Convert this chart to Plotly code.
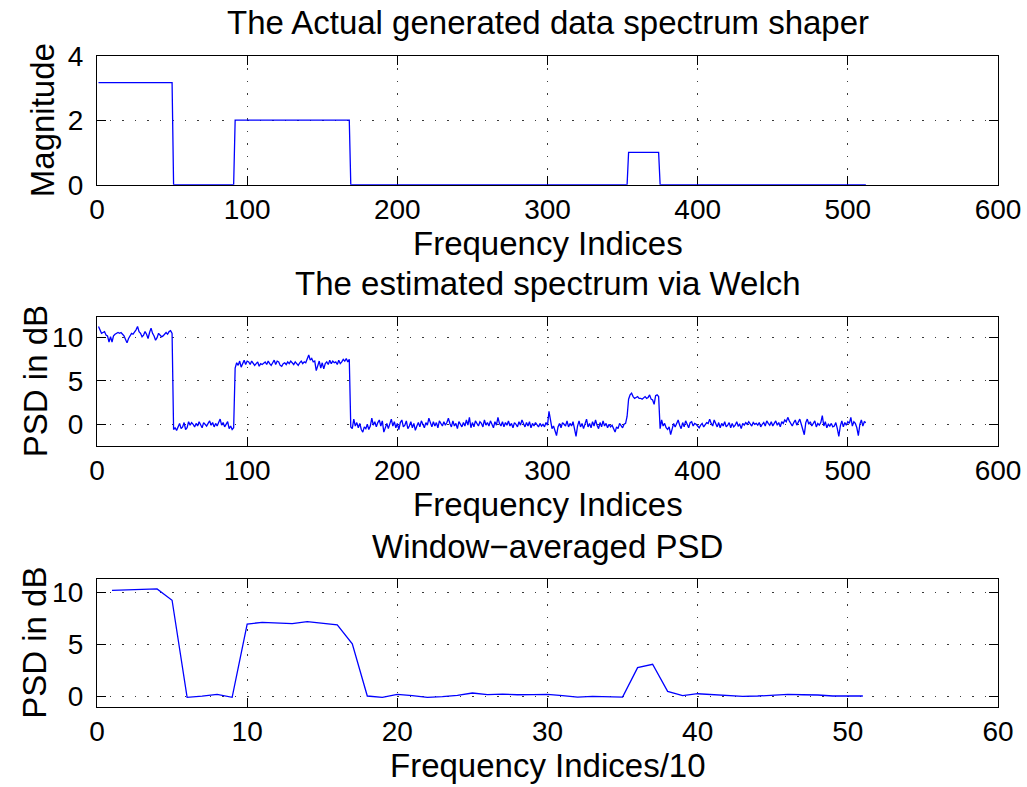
import plotly.graph_objects as go

# ---- spectrum shaper: corner points of the piecewise-constant magnitude ----
shaper_idx = [1, 50, 51, 91, 92, 168, 169, 353, 354, 374, 375, 512]
shaper_mag = [3.1623, 3.1623, 0, 0, 2, 2, 0, 0, 1, 1, 0, 0]

# ---- Welch PSD estimate in dB, frequency indices 1..512 ----
welch_psd_db = [
    # 1-50
    11.3, 10.9, 10.5, 10.6, 10.7, 10.3, 10.2, 9.5, 10.1, 9.5,
    10.2, 10.4, 10.5, 10.6, 10.5, 10.6, 10.4, 10.2, 9.8, 9.4,
    9.9, 10.3, 10.5, 10.4, 10.6, 10.9, 11.3, 10.7, 10.5, 10.1,
    10.3, 10.7, 10.4, 9.9, 10.6, 11.1, 10.5, 10.2, 9.7, 10.0,
    10.5, 10.3, 10.1, 10.2, 10.4, 10.6, 10.4, 10.7, 10.8, 10.5,
    # 51-91
    -0.6, -0.4, -0.7, -0.2, 0.1, -0.5, -0.3, 0.2, -0.6, -0.4,
    0.3, -0.1, 0.2, 0.0, -0.3, 0.1, -0.2, 0.3, -0.1, -0.4,
    0.2, 0.0, -0.2, 0.1, 0.4, -0.1, 0.2, -0.3, 0.1, -0.2,
    0.3, 0.6, -0.1, 0.2, -0.3, 0.1, 0.3, -0.5, -0.2, -0.6,
    -0.4,
    # 92-168
    6.5, 7.1, 6.8, 7.3, 6.6, 7.0, 7.4, 6.9, 7.3, 7.2,
    6.9, 7.3, 7.1, 6.8, 7.0, 7.2, 6.7, 7.0, 6.9, 7.1,
    7.2, 6.9, 7.3, 7.0, 6.8, 7.1, 7.4, 6.9, 7.3, 7.2,
    6.8, 6.7, 7.0, 7.1, 6.9, 7.2, 7.0, 7.3, 7.1, 6.9,
    7.2, 7.0, 6.8, 7.1, 7.3, 7.0, 7.2, 7.1, 7.5, 8.0,
    7.4, 7.6, 7.2, 7.3, 6.2, 6.9, 7.3, 6.5, 7.1,
    6.4, 7.0, 7.2, 6.9, 7.4, 7.0, 7.3, 7.1, 7.2, 6.9,
    7.4, 7.0, 7.2, 7.5, 7.3, 7.6, 7.2, 7.5,
    # 169-353
    -0.3, -0.5, 0.6, -0.2, 0.2, -0.4, 0.1, -0.6, -0.9, -0.3,
    -0.5, 0.0, -0.6, -0.2, 0.7, -0.1, 0.3, -0.3, 0.2, 0.5,
    -0.2, 0.4, -0.9, -0.3, 0.1, -0.5, 0.2, 0.6, -0.2, 0.3,
    -0.4, 0.1, -0.6, 0.2, 0.5, -0.3, -0.1, 0.4, -0.5, -0.2,
    0.3, -0.4, 0.1, -0.7, -0.2, 0.2, -0.3, 0.4, 0.0, -0.4,
    0.2, -0.1, 0.7, 0.1, -0.3, 0.3, -0.2, 0.2, -0.4, 0.4,
    0.0, -0.2, 0.3, -0.1, 0.2, 0.7, 0.1, -0.3, 0.4, -0.2,
    0.1, -0.5, 0.3, 0.0, -0.3, 0.2, -0.2, 0.5, -0.1, 0.8,
    -0.4, 0.2, -0.3, 0.4, 0.0, -0.2, 0.3, 0.1, -0.3, 0.5,
    -0.1, 0.2, -0.2, 0.4, 0.0, -0.4, 0.3, -0.1, 0.8, 0.1,
    -0.2, 0.3, -0.3, 0.2, -0.1, 0.4, -0.2, 0.1, -0.4, 0.2,
    0.0, -0.3, 0.3, -0.1, 0.5, 0.0, -0.3, 0.2, -0.2, 0.3,
    -0.4, 0.1, -0.2, 0.2, -0.1, -0.3, 0.1, -0.2, 0.0, -0.3,
    0.2, -0.1, 1.5, 0.3, -0.5, -0.2, -0.8, -1.3, -0.3, 0.1,
    -0.4, 0.2, 0.0, -0.2, 0.4, -0.3, 0.1, -0.2, 0.3, -0.6,
    -1.4, -0.2, 0.4, -0.3, 0.1, -0.5, 0.2, 0.6, -0.3, 0.1,
    -0.4, 0.3, -0.2, 0.5, -0.1, -0.5, 0.2, -0.3, 0.4, -0.2,
    0.1, -0.4, 0.0, -0.3, -0.1, -0.6, -0.9, -0.3, -0.5, 0.1,
    -0.2, -0.4, 0.0, 0.1, 0.9,
    # 354-374
    2.9, 3.4, 3.6, 3.2, 3.0, 3.1, 3.2, 3.0, 3.0, 2.9,
    3.1, 3.2, 3.0, 3.1, 3.4, 2.9, 2.8, 2.3, 3.3, 3.4, 3.2,
    # 375-512
    -0.5, 0.5, -0.2, 0.1, -0.4, -0.6, -0.3, -1.2, -0.4, 0.1,
    -0.3, 0.2, 0.5, -0.1, -0.5, 0.2, -0.3, 0.4, 0.0, -0.4,
    0.2, 0.3, -0.2, 0.1, 0.0, -0.2, -0.4, -0.1, 0.1, -0.3,
    -0.1, 0.2, 0.1, 0.6, 0.1, -0.2, 0.5, 0.0, -0.3, 0.2,
    -0.4, 0.1, -0.2, 0.3, -0.3, -0.1, 0.2, -0.4, 0.1, -0.3,
    -0.1, 0.3, -0.2, 0.0, -0.5, 0.1, -0.1, 0.2, 0.0, 0.3,
    0.1, -0.2, 0.2, 0.0, 0.1, -0.1, 0.2, -0.3, 0.0, 0.2,
    -0.2, 0.4, 0.1, -0.1, 0.3, -0.2, 0.1, 0.4, -0.1, 0.2,
    -0.3, 0.3, 0.1, 0.5, 0.3, 0.8, 0.4, 0.1, -0.2, 0.2,
    0.5, -0.1, 0.3, 0.6, 0.0, -0.5, -1.2, 0.2, 0.6, 0.0,
    0.3, -0.2, 0.2, 0.4, -0.3, 0.1, -0.1, 0.2, 1.0, -0.2,
    0.3, -0.4, 0.0, -0.2, 0.1, -0.3, -0.2, 0.2, -0.5, -1.4,
    -0.2, 0.4, -0.3, 0.2, -0.1, 0.3, 0.1, 0.8, -0.2, 0.3,
    0.1, -0.4, -1.3, 0.0, 0.5, -0.2, 0.3, 0.2,
]
welch_idx = list(range(1, len(welch_psd_db) + 1))

# ---- PSD averaged over windows of 10 bins, in dB ----
avg_idx = list(range(1, 52))
avg_psd_db = [
    10.19, 10.25, 10.32, 10.32, 9.23, -0.13, -0.02, 0.16, -0.13, 6.94,
    7.10, 7.04, 6.97, 7.17, 7.04, 6.85, 5.04, 0.00, -0.13, 0.16,
    0.03, -0.13, -0.05, 0.07, 0.29, 0.13, 0.19, 0.12, 0.14, 0.16,
    0.03, -0.10, -0.03, -0.03, -0.10, 2.73, 3.06, 0.45, 0.03, 0.22,
    0.12, 0.05, -0.03, 0.00, 0.05, 0.16, 0.12, 0.10, 0.00, -0.02,
    0.00,
]

# ---- axis ticks ----
freq_ticks = [0, 100, 200, 300, 400, 500, 600]
freq10_ticks = [0, 10, 20, 30, 40, 50, 60]
mag_ticks = [0, 2, 4]
db_ticks = [0, 5, 10]

titles = ["The Actual generated data spectrum shaper",
          "The estimated spectrum via Welch",
          "Window\u2212averaged PSD"]
xlabels = ["Frequency Indices", "Frequency Indices", "Frequency Indices/10"]
ylabels = ["Magnitude", "PSD in dB", "PSD in dB"]
ylabel_x = [42, 35, 35]

W, H = 1027, 787
FONT = "Liberation Sans, Arial, Helvetica, sans-serif"
BLUE = "#0000ff"

# panel frames in pixels: (top, bottom); left/right shared
LEFT, RIGHT = 97, 998
frames = [(55.7, 184.7), (316.7, 445.7), (579.0, 706.7)]


def py(v):
    return (H - v) / H


fig = go.Figure()
fig.add_trace(go.Scatter(x=shaper_idx, y=shaper_mag, mode="lines",
                         line=dict(color=BLUE, width=1.3), xaxis="x", yaxis="y"))
fig.add_trace(go.Scatter(x=welch_idx, y=welch_psd_db, mode="lines",
                         line=dict(color=BLUE, width=1.3), xaxis="x2", yaxis="y2"))
fig.add_trace(go.Scatter(x=avg_idx, y=avg_psd_db, mode="lines",
                         line=dict(color=BLUE, width=1.3), xaxis="x3", yaxis="y3"))

axis_common = dict(
    showline=True, linecolor="black", linewidth=1.3, mirror="allticks",
    ticks="inside", ticklen=9, tickwidth=1.3, tickcolor="black",
    showgrid=True, gridcolor="#3a3a3a", gridwidth=1, griddash="1.5px,11px",
    zeroline=False, tickfont=dict(family=FONT, size=28, color="black"),
    layer="below traces", automargin=False,
)

xranges = [[0, 600], [0, 600], [0, 60]]
xtickss = [freq_ticks, freq_ticks, freq10_ticks]
yranges = [[0, 4], [-2.47, 12.42], [-1.03, 11.28]]
ytickss = [mag_ticks, db_ticks, db_ticks]

layout = dict(
    width=W, height=H, margin=dict(l=0, r=0, t=0, b=0),
    paper_bgcolor="white", plot_bgcolor="white", showlegend=False,
    font=dict(family=FONT, color="black"),
)
annotations = []
for i, (top, bot) in enumerate(frames):
    sfx = "" if i == 0 else str(i + 1)
    layout["xaxis" + sfx] = dict(
        axis_common, domain=[LEFT / W, RIGHT / W], range=xranges[i],
        tickvals=xtickss[i], anchor="y" + sfx, ticklabelstandoff=0,
    )
    layout["yaxis" + sfx] = dict(
        axis_common, domain=[py(bot), py(top)], range=yranges[i],
        tickvals=ytickss[i], anchor="x" + sfx, ticklabelstandoff=7,
    )
    cx = (LEFT + RIGHT) / 2 / W
    annotations.append(dict(text=titles[i], x=cx, y=py(top - 33), xref="paper", yref="paper",
                            xanchor="center", yanchor="middle", showarrow=False,
                            font=dict(family=FONT, size=33, color="black")))
    annotations.append(dict(text=xlabels[i], x=cx, y=py(bot + 59), xref="paper", yref="paper",
                            xanchor="center", yanchor="middle", showarrow=False,
                            font=dict(family=FONT, size=33, color="black")))
    annotations.append(dict(text=ylabels[i], x=ylabel_x[i] / W, y=py((top + bot) / 2),
                            xref="paper", yref="paper", xanchor="center", yanchor="middle",
                            textangle=-90, showarrow=False,
                            font=dict(family=FONT, size=33, color="black")))
layout["annotations"] = annotations
fig.update_layout(**layout)

fig.write_html("out.html")
